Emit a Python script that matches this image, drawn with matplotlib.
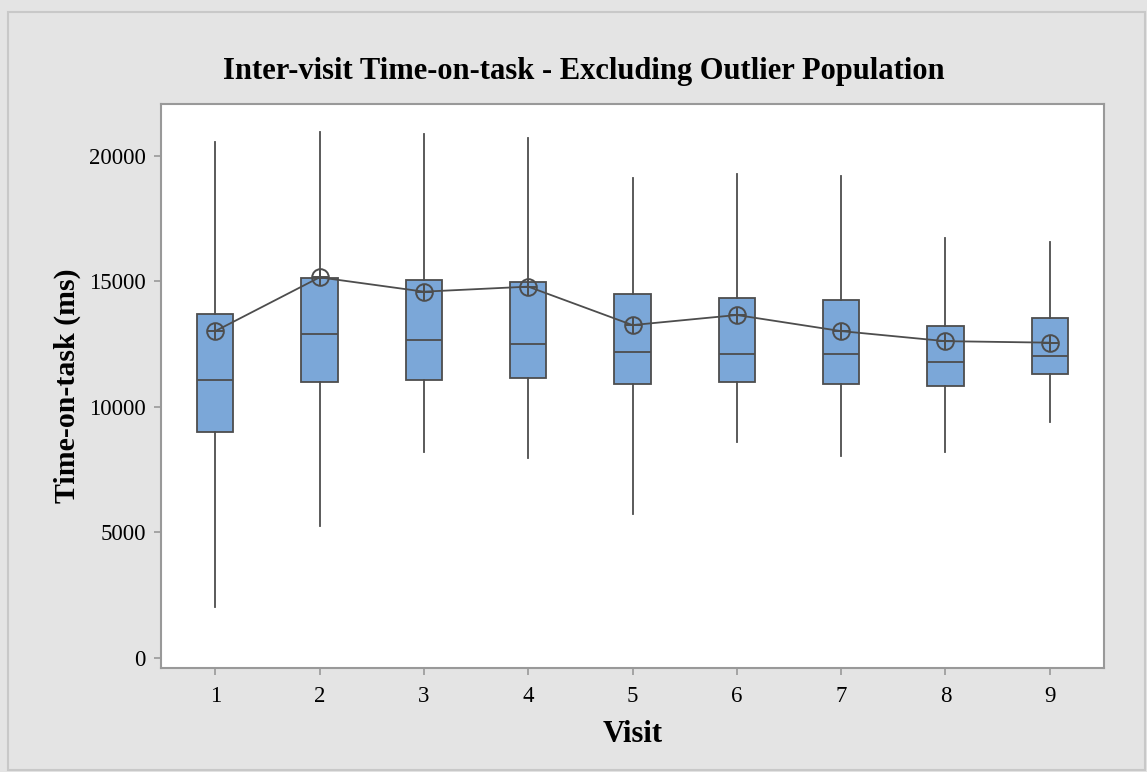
import matplotlib
matplotlib.use("Agg")
import matplotlib.pyplot as plt
from matplotlib.patches import Rectangle

# Summary statistics per visit (ms)
visits = [1, 2, 3, 4, 5, 6, 7, 8, 9]
whisker_low = [2020, 5270, 8210, 7970, 5740, 8610, 8050, 8210, 9400]
q1 = [9000, 10980, 11080, 11140, 10900, 10980, 10900, 10820, 11310]
median = [11070, 12900, 12670, 12510, 12190, 12100, 12100, 11790, 12030]
q3 = [13700, 15130, 15040, 14970, 14480, 14340, 14260, 13220, 13540]
whisker_high = [20530, 20920, 20850, 20690, 19100, 19260, 19180, 16710, 16550]
mean = [13010, 15150, 14580, 14780, 13250, 13650, 13010, 12610, 12550]

plt.rcParams['font.family'] = ['Liberation Serif', 'DejaVu Serif']

fig = plt.figure(figsize=(11.47, 7.72), dpi=100)
fig.patch.set_facecolor('#e4e4e4')
fig.patches.append(Rectangle((8 / 1147, 2 / 772), 1137 / 1147, 758 / 772,
                             transform=fig.transFigure, fill=False,
                             edgecolor='#c8c8c8', linewidth=1.5))

ax = fig.add_axes([161 / 1147, 1 - 668 / 772, (1104 - 161) / 1147, (668 - 104) / 772])
ax.set_facecolor('white')

stats = []
for i in range(len(visits)):
    stats.append(dict(whislo=whisker_low[i], q1=q1[i], med=median[i],
                      q3=q3[i], whishi=whisker_high[i], fliers=[]))

edge = '#4d4d4d'
ax.bxp(stats, positions=visits, widths=0.35, patch_artist=True,
       showcaps=False, showfliers=False,
       boxprops=dict(facecolor='#7ba7d8', edgecolor=edge, linewidth=1.3),
       medianprops=dict(color=edge, linewidth=1.3),
       whiskerprops=dict(color=edge, linewidth=1.3))

# Mean connect line with circled-cross symbols
ax.plot(visits, mean, color=edge, linewidth=1.3, zorder=4)
ax.plot(visits, mean, linestyle='none', marker='o', markersize=12,
        markerfacecolor='none', markeredgecolor=edge, markeredgewidth=1.4, zorder=5)
ax.plot(visits, mean, linestyle='none', marker='+', markersize=12,
        markeredgecolor=edge, markeredgewidth=1.4, zorder=5)

ax.set_xlim(0.48, 9.52)
ax.set_ylim(-400, 22050)
ax.set_xticks(visits)
ax.set_xticklabels([str(v) for v in visits])
ax.set_yticks([0, 5000, 10000, 15000, 20000])

for s in ax.spines.values():
    s.set_color('#999999')
    s.set_linewidth(1.5)
ax.tick_params(axis='both', colors='#999999', width=1.2, length=5,
               labelcolor='black', labelsize=16.5)
ax.tick_params(axis='x', pad=8)
ax.tick_params(axis='y', pad=6)

ax.set_xlabel('Visit', fontsize=22, fontweight='bold', labelpad=9)
ax.set_ylabel('Time-on-task (ms)', fontsize=21.5, fontweight='bold', labelpad=6)
fig.text((225 + 943) / 2 / 1147, 1 - 72 / 772,
         'Inter-visit Time-on-task - Excluding Outlier Population',
         ha='center', va='center', fontsize=22, fontweight='bold')

fig.savefig('out.png', dpi=100, facecolor=fig.get_facecolor())
